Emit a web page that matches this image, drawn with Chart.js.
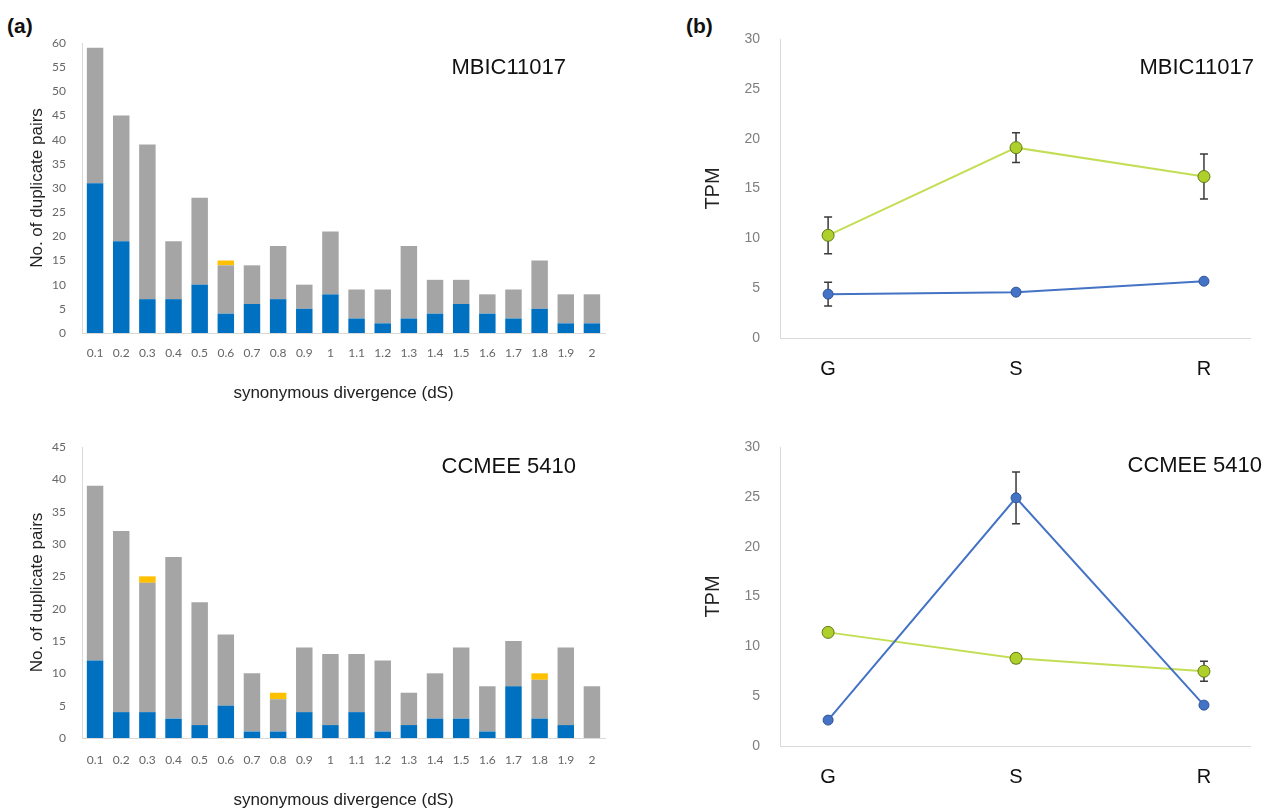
<!DOCTYPE html>
<html>
<head>
<meta charset="utf-8">
<script src="https://cdn.jsdelivr.net/npm/chart.js@4.4.0/dist/chart.umd.min.js"></script>
<style>
  body { margin: 0; background: #fff; width: 1274px; height: 809px; overflow: hidden; position: relative; }
  .box { position: absolute; }
  .tag { position: absolute; font: bold 21px "Liberation Sans", Arial, sans-serif; color: #111; }
</style>
</head>
<body>
<div class="tag" style="left:7px;top:14px">(a)</div>
<div class="tag" style="left:686px;top:14px">(b)</div>
<div class="box" style="left:0;top:30px;width:640px;height:380px"><canvas id="barTop"></canvas></div>
<div class="box" style="left:0;top:430px;width:640px;height:379px"><canvas id="barBottom"></canvas></div>
<div class="box" style="left:680px;top:30px;width:594px;height:380px"><canvas id="lineTop"></canvas></div>
<div class="box" style="left:680px;top:430px;width:594px;height:379px"><canvas id="lineBottom"></canvas></div>
<script>
// dS bins
var dsBins = ['0.1','0.2','0.3','0.4','0.5','0.6','0.7','0.8','0.9','1',
              '1.1','1.2','1.3','1.4','1.5','1.6','1.7','1.8','1.9','2'];

// MBIC11017 duplicate pairs (stacked: blue, grey, yellow)
var mbicBlue   = [31,19, 7, 7,10, 4, 6, 7, 5, 8, 3, 2, 3, 4, 6, 4, 3, 5, 2, 2];
var mbicGrey   = [28,26,32,12,18,10, 8,11, 5,13, 6, 7,15, 7, 5, 4, 6,10, 6, 6];
var mbicYellow = [ 0, 0, 0, 0, 0, 1, 0, 0, 0, 0, 0, 0, 0, 0, 0, 0, 0, 0, 0, 0];

// CCMEE 5410 duplicate pairs
var ccmeeBlue   = [12, 4, 4, 3, 2, 5, 1, 1, 4, 2, 4, 1, 2, 3, 3, 1, 8, 3, 2, 0];
var ccmeeGrey   = [27,28,20,25,19,11, 9, 5,10,11, 9,11, 5, 7,11, 7, 7, 6,12, 8];
var ccmeeYellow = [ 0, 0, 1, 0, 0, 0, 0, 1, 0, 0, 0, 0, 0, 0, 0, 0, 0, 1, 0, 0];

// TPM by stage
var stages = ['G','S','R'];
var mbicGreenTpm    = [10.3, 19.1, 16.2];
var mbicGreenErr    = [1.85, 1.5, 2.25];
var mbicBlueTpm     = [4.4, 4.6, 5.7];
var mbicBlueErr     = [1.2, 0, 0];
var ccmeeGreenTpm   = [11.4, 8.8, 7.5];
var ccmeeGreenErr   = [0.35, 0.45, 1.0];
var ccmeeBlueTpm    = [2.6, 24.9, 4.1];
var ccmeeBlueErr    = [0, 2.6, 0];

var ARIAL = '"Liberation Sans", Arial, sans-serif';
var TICKF = 'Lato, "Open Sans", sans-serif';

/*
 * Draws a text label at a fixed spot in the canvas
 */
var cornerLabel = {
    id: 'cornerLabel',
    afterDraw: function(chart, args, opts) {
        if (!opts.text) return;
        var ctx = chart.ctx;
        ctx.save();
        ctx.font = (opts.size || 20) + 'px ' + ARIAL;
        ctx.fillStyle = '#111';
        ctx.textAlign = 'right';
        ctx.textBaseline = 'middle';
        ctx.fillText(opts.text, opts.right, opts.y);
        ctx.restore();
    }
};

/*
 * Error bars from dataset.errors (symmetric)
 */
var errorBars = {
    id: 'errorBars',
    beforeDatasetsDraw: function(chart) {
        var ctx = chart.ctx;
        var yScale = chart.scales.y;
        chart.data.datasets.forEach(function(ds, i) {
            if (!ds.errors) return;
            var meta = chart.getDatasetMeta(i);
            meta.data.forEach(function(pt, j) {
                var e = ds.errors[j];
                if (!e) return;
                var v = ds.data[j].y;
                var yTop = yScale.getPixelForValue(v + e);
                var yBot = yScale.getPixelForValue(v - e);
                ctx.save();
                ctx.strokeStyle = '#3a3a3a';
                ctx.lineWidth = 1.5;
                ctx.beginPath();
                ctx.moveTo(pt.x, yTop); ctx.lineTo(pt.x, yBot);
                ctx.moveTo(pt.x - 4, yTop); ctx.lineTo(pt.x + 4, yTop);
                ctx.moveTo(pt.x - 4, yBot); ctx.lineTo(pt.x + 4, yBot);
                ctx.stroke();
                ctx.restore();
            });
        });
    }
};

// fixed-width y axis, top edge set by layout padding only
var fixY = function(width) {
    return function(s) { s.width = width; s.paddingTop = 0; s.paddingBottom = 0; };
};

var createBarChart = function(id, blue, grey, yellow, yMax, label, padTop, xHeight, tickPad, titlePad) {
    var ctx = document.getElementById(id).getContext('2d');
    var common = { barPercentage: 0.63, categoryPercentage: 1, borderWidth: 0, stack: 's' };
    return new Chart(ctx, {
        type: 'bar',
        data: {
            labels: dsBins,
            datasets: [
                Object.assign({ data: blue, backgroundColor: '#0070C0' }, common),
                Object.assign({ data: grey, backgroundColor: '#A5A5A5' }, common),
                Object.assign({ data: yellow, backgroundColor: '#FFC000' }, common)
            ]
        },
        options: {
            responsive: true,
            maintainAspectRatio: false,
            animation: false,
            layout: { padding: { top: padTop, right: 35, left: 0, bottom: 0 } },
            plugins: { legend: { display: false }, tooltip: { enabled: false }, cornerLabel: label },
            scales: {
                x: {
                    stacked: true,
                    grid: { display: false },
                    border: { display: true, color: '#d9d9d9', width: 1 },
                    ticks: { color: '#666', font: { family: TICKF, size: 12 }, padding: tickPad, maxRotation: 0, autoSkip: false },
                    title: { display: true, text: 'synonymous divergence (dS)', color: '#222',
                             font: { family: ARIAL, size: 17, lineHeight: 1 }, padding: { top: 0, bottom: titlePad } },
                    afterFit: function(s) { s.height = xHeight; }
                },
                y: {
                    stacked: true,
                    min: 0, max: yMax,
                    grid: { display: false },
                    border: { display: true, color: '#d9d9d9', width: 1 },
                    ticks: { stepSize: 5, color: '#666', font: { family: TICKF, size: 12 }, padding: 8 },
                    title: { display: true, text: 'No. of duplicate pairs', color: '#222',
                             font: { family: ARIAL, size: 17, lineHeight: 1 }, padding: { top: 29, bottom: 0 } },
                    afterFit: fixY(82)
                }
            }
        },
        plugins: [cornerLabel]
    });
};

var points = function(vals) {
    return stages.map(function(s, i) { return { x: i, y: vals[i] }; });
};

var createLineChart = function(id, green, greenErr, blue, blueErr, label, padTop, xHeight) {
    var ctx = document.getElementById(id).getContext('2d');
    return new Chart(ctx, {
        type: 'line',
        data: {
            datasets: [
                { data: points(blue), errors: blueErr, borderColor: '#4472C4', borderWidth: 2,
                  pointBackgroundColor: '#4472C4', pointBorderColor: '#2F5597', pointBorderWidth: 1,
                  pointRadius: 5, tension: 0 },
                { data: points(green), errors: greenErr, borderColor: '#C3DE55', borderWidth: 2,
                  pointBackgroundColor: '#AECF2C', pointBorderColor: '#5E7A12', pointBorderWidth: 1,
                  pointRadius: 6, tension: 0 }
            ]
        },
        options: {
            responsive: true,
            maintainAspectRatio: false,
            animation: false,
            layout: { padding: { top: padTop, right: 24, left: 0, bottom: 0 } },
            plugins: { legend: { display: false }, tooltip: { enabled: false }, cornerLabel: label },
            scales: {
                x: {
                    type: 'linear',
                    min: -0.256, max: 2.245,
                    grid: { display: false },
                    border: { display: true, color: '#d9d9d9', width: 1 },
                    afterBuildTicks: function(s) { s.ticks = stages.map(function(t, i) { return { value: i }; }); },
                    ticks: { color: '#111', font: { family: ARIAL, size: 20 }, padding: 11,
                             callback: function(v) { return stages[v]; } },
                    afterFit: function(s) { s.height = xHeight; }
                },
                y: {
                    min: 0, max: 30,
                    grid: { display: false },
                    border: { display: true, color: '#d9d9d9', width: 1 },
                    ticks: { stepSize: 5, color: '#7f7f7f', font: { family: ARIAL, size: 14 }, padding: 12 },
                    title: { display: true, text: 'TPM', color: '#222',
                             font: { family: ARIAL, size: 20, lineHeight: 1 }, padding: { top: 23, bottom: 0 } },
                    afterFit: fixY(100)
                }
            }
        },
        plugins: [cornerLabel, errorBars]
    });
};

createBarChart('barTop', mbicBlue, mbicGrey, mbicYellow, 60,
    { text: 'MBIC11017', right: 566, y: 38, size: 22 }, 13, 77, 5, 8);
createBarChart('barBottom', ccmeeBlue, ccmeeGrey, ccmeeYellow, 45,
    { text: 'CCMEE 5410', right: 576, y: 37, size: 22 }, 17, 71, 7, 0);
createLineChart('lineTop', mbicGreenTpm, mbicGreenErr, mbicBlueTpm, mbicBlueErr,
    { text: 'MBIC11017', right: 574, y: 38, size: 22 }, 9, 72);
createLineChart('lineBottom', ccmeeGreenTpm, ccmeeGreenErr, ccmeeBlueTpm, ccmeeBlueErr,
    { text: 'CCMEE 5410', right: 582, y: 36, size: 22 }, 17, 63);
</script>
</body>
</html>
